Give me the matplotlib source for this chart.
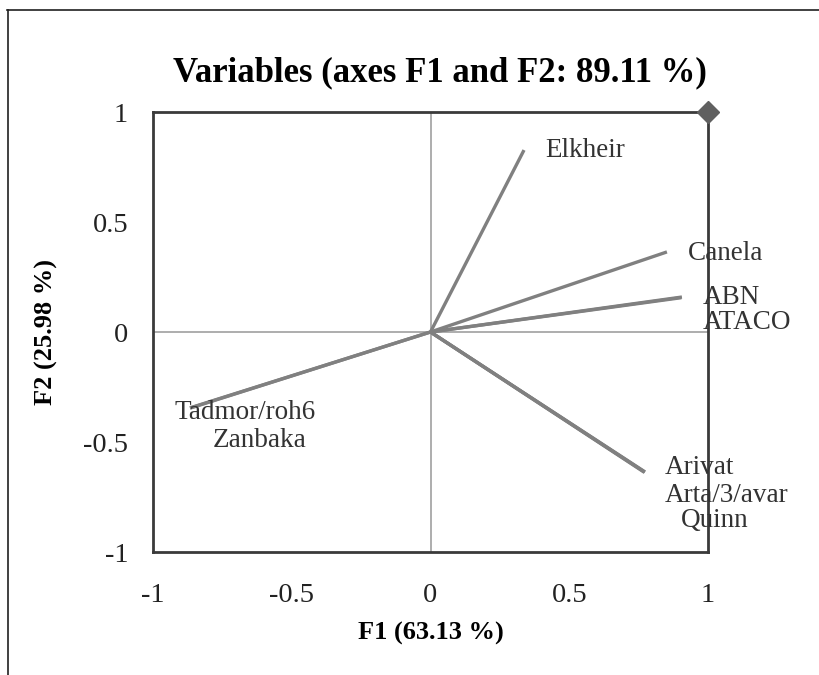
import matplotlib.pyplot as plt
from matplotlib.lines import Line2D

# Variable loadings on F1 / F2
variables = ['Elkheir', 'Canela', 'ABN', 'ATACO', 'Arivat', 'Arta/3/avar', 'Quinn',
             'Tadmor/roh6', 'Zanbaka']
f1 = [0.337, 0.852, 0.906, 0.904, 0.773, 0.772, 0.771, -0.867, -0.866]
f2 = [0.827, 0.364, 0.159, 0.156, -0.636, -0.637, -0.638, -0.345, -0.346]

# where the names sit (data coords)
label_pos = [(0.412, 0.827), (0.928, 0.359), (0.982, 0.159), (0.982, 0.045),
             (0.845, -0.618), (0.845, -0.741), (0.903, -0.855),
             (-0.921, -0.368), (-0.784, -0.491)]

ticks = [-1, -0.5, 0, 0.5, 1]
tick_labels = ['-1', '-0.5', '0', '0.5', '1']

plt.rcParams['font.family'] = ['Liberation Serif', 'DejaVu Serif']

fig = plt.figure(figsize=(8.19, 6.75), dpi=100)
ax = fig.add_axes([153 / 819, 1 - 552 / 675, 555 / 819, 440 / 675])

# frame lines round the picture (top and left only)
fig.add_artist(Line2D([7 / 819, 1], [1 - 10 / 675, 1 - 10 / 675], color='#202020', lw=1.2))
fig.add_artist(Line2D([8 / 819, 8 / 819], [0, 1 - 10 / 675], color='#202020', lw=1.2))

ax.axhline(0, color='#a0a0a0', lw=1.2, zorder=1)
ax.axvline(0, color='#a0a0a0', lw=1.2, zorder=1)

for i in range(len(variables)):
    ax.plot([0, f1[i]], [0, f2[i]], color='#808080', lw=2.4, solid_capstyle='butt', zorder=2)
    ax.text(label_pos[i][0], label_pos[i][1], variables[i], fontsize=19.5,
            color='#333333', ha='left', va='center', zorder=4)

ax.plot([1], [1], marker='D', color='#606060', markersize=11, clip_on=False, zorder=5)

ax.set_xlim(-1, 1)
ax.set_ylim(-1, 1)
ax.set_xticks(ticks)
ax.set_xticklabels(tick_labels)
ax.set_yticks(ticks)
ax.set_yticklabels(tick_labels)
ax.tick_params(length=0, labelsize=20.5, labelcolor='#222222')
ax.tick_params(axis='x', pad=22)
ax.tick_params(axis='y', pad=18)
for s in ax.spines.values():
    s.set_color('#3a3a3a')
    s.set_linewidth(2)

ax.set_xlabel('F1 (63.13 %)', fontsize=19, fontweight='bold', labelpad=10)
ax.set_ylabel('F2 (25.98 %)', fontsize=19, fontweight='bold', labelpad=18)
ax.set_title('Variables (axes F1 and F2: 89.11 %)', fontsize=25, fontweight='bold',
             pad=22, x=0.517)

plt.savefig('out.png', dpi=100)
